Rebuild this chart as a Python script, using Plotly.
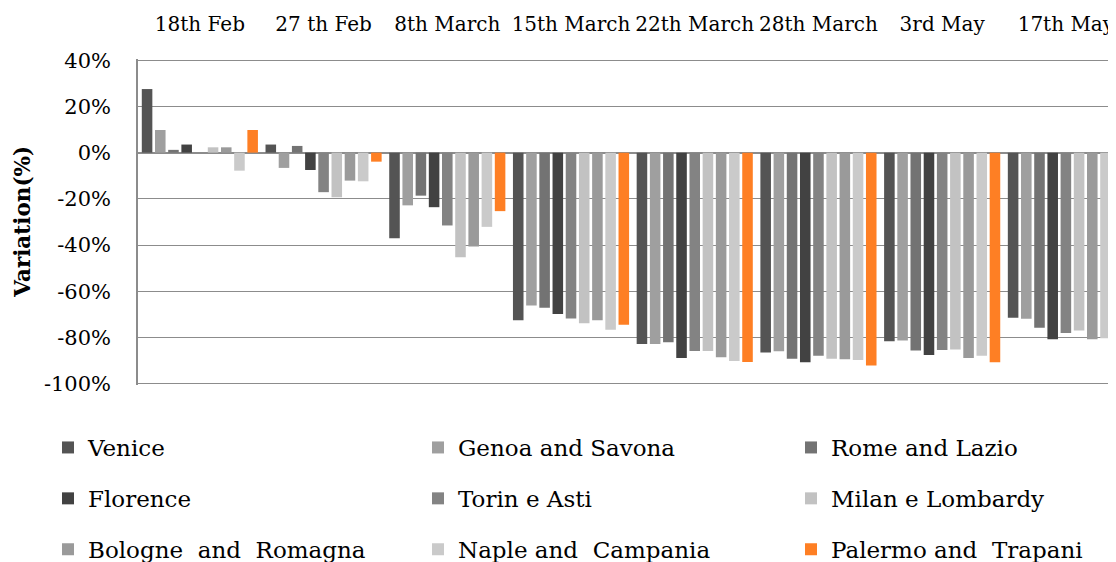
import plotly.graph_objects as go

categories = ["18th Feb", "27 th Feb", "8th March", "15th March", "22th March", "28th March", "3rd May", "17th May"]

series_names = ["Venice", "Genoa and Savona", "Rome and Lazio",
                "Florence", "Torin e Asti", "Milan e Lombardy",
                "Bologne\u00a0 and\u00a0 Romagna", "Naple and\u00a0 Campania", "Palermo and\u00a0 Trapani"]

venice   = [27.5,   3.5, -37.0, -72.5, -82.8, -86.4, -81.6, -71.4]
genoa    = [ 9.8,  -6.6, -22.8, -66.1, -82.8, -85.9, -81.3, -71.8]
rome     = [ 1.2,   2.9, -18.6, -67.1, -82.0, -89.2, -85.6, -75.7]
florence = [ 3.5,  -7.5, -23.6, -69.8, -88.8, -90.7, -87.5, -80.7]
torin    = [ 0.0, -17.1, -31.5, -71.7, -85.8, -87.8, -85.4, -78.0]
milan    = [ 2.3, -19.3, -45.2, -73.8, -85.8, -89.2, -85.1, -76.9]
bologne  = [ 2.3, -12.1, -40.6, -72.5, -88.5, -89.4, -88.8, -80.7]
naple    = [-7.8, -12.4, -32.1, -76.6, -90.1, -89.7, -87.8, -80.3]
palermo  = [ 9.8,  -3.9, -25.3, -74.4, -90.5, -92.1, -90.7, -81.7]

ytick_vals = [40, 20, 0, -20, -40, -60, -80, -100]
ytick_text = ["40%", "20%", "0%", "-20%", "-40%", "-60%", "-80%", "-100%"]
y_title = "Variation(%)"

series_values = [venice, genoa, rome, florence, torin, milan, bologne, naple, palermo]
colors = ["#545454", "#9f9f9f", "#737373", "#424242", "#838383", "#c2c2c2", "#9a9a9a", "#cacaca", "#fe7f24"]

FONT = "DejaVu Serif"
W, H = 1108, 554   # page adds an 8px body margin
PAD = 0.5          # small range padding so the edge gridlines are drawn
PXU = 2.314        # px per percent
L, R = 129.5, 0
T = 52 - PAD * PXU
B = 178.4 - PAD * PXU

fig = go.Figure()
legend_ids = ["legend", "legend2", "legend3"]
for i, (name, vals, col) in enumerate(zip(series_names, series_values, colors)):
    fig.add_trace(go.Bar(
        x=categories, y=vals, name=name,
        marker=dict(color=col, line=dict(width=0)),
        legend=legend_ids[i % 3], legendgroup="g%d" % i,
    ))

legend_common = dict(
    orientation="v", xref="container", yref="container",
    xanchor="left", yanchor="top", y=1 - 418 / H,
    font=dict(family=FONT, size=23, color="#000000"),
    bgcolor="rgba(0,0,0,0)", itemclick=False, itemdoubleclick=False,
    traceorder="grouped", tracegroupgap=18,
)
col_x = [40, 410, 783]

plot_w = W - L - R
plot_h = H - T - B

fig.update_layout(
    width=W, height=H,
    margin=dict(l=L, r=R, t=T, b=B, autoexpand=False),
    paper_bgcolor="white", plot_bgcolor="white",
    barmode="group", bargap=0.04, bargroupgap=0.2,
    font=dict(family=FONT, color="#000000"),
    legend=dict(legend_common, x=col_x[0] / W),
    legend2=dict(legend_common, x=col_x[1] / W),
    legend3=dict(legend_common, x=col_x[2] / W),
    xaxis=dict(
        type="category", side="top", range=[-0.5, 7.405],
        showgrid=False, showline=False, ticks="",
        tickfont=dict(family=FONT, size=20, color="#000000"),
        ticklabelstandoff=23,
    ),
    yaxis=dict(
        range=[-100 - PAD, 40 + PAD], tickvals=ytick_vals, ticktext=ytick_text,
        showgrid=True, gridcolor="#8c8c8c", gridwidth=1.3,
        zeroline=True, zerolinecolor="#8c8c8c", zerolinewidth=1.5,
        showline=True, linecolor="#8c8c8c", linewidth=1.5,
        ticks="", tickfont=dict(family=FONT, size=21, color="#000000"),
        ticklabelstandoff=21,
    ),
    annotations=[dict(
        text="<b>%s</b>" % y_title, textangle=-90, showarrow=False,
        xref="paper", yref="paper",
        x=(14 - L) / plot_w, y=(T + plot_h - 214) / plot_h,
        xanchor="center", yanchor="middle",
        font=dict(family=FONT, size=21.5, color="#000000"),
    )],
    showlegend=True,
)

fig.write_html("out.html")
